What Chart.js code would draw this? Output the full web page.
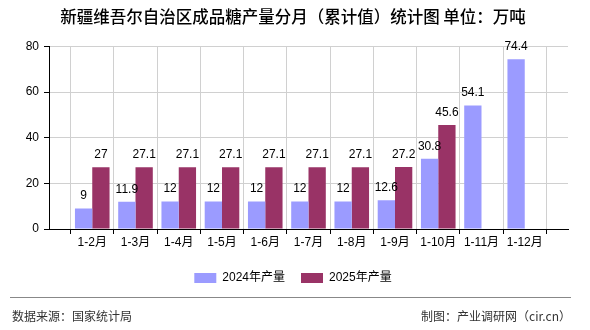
<!DOCTYPE html>
<html>
<head>
<meta charset="utf-8">
<script src="https://cdn.jsdelivr.net/npm/chart.js@4.4.0/dist/chart.umd.min.js"></script>
<style>
  html, body { margin: 0; padding: 0; background: #fff; }
  #wrap { position: relative; width: 590px; height: 330px; overflow: hidden; }
  #c { position: absolute; left: 0; top: 0; }
  #sep { position: absolute; left: 10px; top: 297px; width: 561px; height: 0; border-top: 1px solid #888; }
  .foot { position: absolute; top: 308px; font: 12px "Noto Sans CJK SC", sans-serif; color: #333; line-height: 16px; white-space: nowrap; }
  #fl { left: 12px; }
  #fr { right: 19px; }
</style>
</head>
<body>
<div id="wrap">
  <canvas id="c" width="590" height="330"></canvas>
  <div id="sep"></div>
  <div class="foot" id="fl">数据来源：国家统计局</div>
  <div class="foot" id="fr">制图：产业调研网（cir.cn）</div>
</div>
<script>
const titleText = '新疆维吾尔自治区成品糖产量分月（累计值）统计图 单位：万吨';
const categories = ['', '1-2月', '1-3月', '1-4月', '1-5月', '1-6月', '1-7月', '1-8月', '1-9月', '1-10月', '1-11月', '1-12月', ''];
const seriesNames = ['2024年产量', '2025年产量'];
const values2024 = [null, 9, 11.9, 12, 12, 12, 12, 12, 12.6, 30.8, 54.1, 74.4, null];
const values2025 = [null, 27, 27.1, 27.1, 27.1, 27.1, 27.1, 27.1, 27.2, 45.6, null, null, null];
const yTicks = [0, 20, 40, 60, 80];

const sansFont = '"Liberation Sans", "Noto Sans CJK SC", sans-serif';

const valueLabels = {
  id: 'valueLabels',
  afterDatasetsDraw(chart) {
    const ctx = chart.ctx;
    ctx.save();
    ctx.font = '12px ' + sansFont;
    ctx.fillStyle = '#000';
    ctx.textAlign = 'center';
    ctx.textBaseline = 'middle';
    chart.data.datasets.forEach((ds, di) => {
      const meta = chart.getDatasetMeta(di);
      meta.data.forEach((el, i) => {
        const v = ds.data[i];
        if (v === null || v === undefined) return;
        ctx.fillText(String(v), el.x, el.y - 12.5);
      });
    });
    ctx.restore();
  }
};

new Chart(document.getElementById('c'), {
  type: 'bar',
  data: {
    labels: categories,
    datasets: [
      { label: seriesNames[0], data: values2024, backgroundColor: '#9b9bff', borderWidth: 0 },
      { label: seriesNames[1], data: values2025, backgroundColor: '#993366', borderWidth: 0 }
    ]
  },
  options: {
    responsive: false,
    animation: false,
    devicePixelRatio: 1,
    layout: { padding: { left: 18, right: 22, top: 0, bottom: 36 } },
    datasets: { bar: { categoryPercentage: 0.8, barPercentage: 1.0 } },
    plugins: {
      title: {
        display: true,
        text: titleText,
        color: '#000',
        font: { family: '"Noto Sans CJK SC", sans-serif', size: 16.5, weight: '500' },
        padding: { top: 7.2, bottom: 19.4 }
      },
      legend: {
        display: true,
        position: 'bottom',
        labels: {
          boxWidth: 22,
          boxHeight: 10,
          padding: 16,
          color: '#000',
          font: { family: sansFont, size: 12 }
        }
      },
      tooltip: { enabled: false }
    },
    scales: {
      x: {
        offset: false,
        grid: { color: '#d0d0d0', lineWidth: 1, tickLength: 5, tickColor: '#000', drawTicks: true },
        border: { color: '#000', width: 1 },
        ticks: { color: '#000', font: { family: sansFont, size: 12 }, autoSkip: false, maxRotation: 0, padding: 1 },
        afterFit(scale) { scale.height = 27; }
      },
      y: {
        min: 0,
        max: 80,
        afterBuildTicks(scale) { scale.ticks = yTicks.map(v => ({ value: v })); },
        grid: { color: '#d0d0d0', lineWidth: 1, tickLength: 5, tickColor: '#000', drawTicks: true },
        border: { color: '#000', width: 1 },
        ticks: { color: '#000', font: { family: sansFont, size: 12 }, padding: 5 },
        afterFit(scale) { scale.width = 31; }
      }
    }
  },
  plugins: [valueLabels]
});
</script>
</body>
</html>
